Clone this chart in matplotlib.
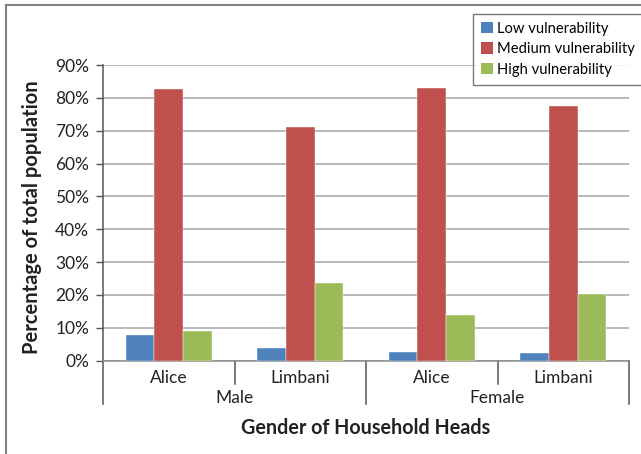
import numpy as np
import matplotlib.pyplot as plt
from matplotlib.patches import Patch
from matplotlib.lines import Line2D

plt.rcParams['font.family'] = ['Lato', 'DejaVu Sans']

# data (percent of total population)
categories = ['Alice', 'Limbani', 'Alice', 'Limbani']
groups = ['Male', 'Female']
series = ['Low vulnerability', 'Medium vulnerability', 'High vulnerability']
low = [7.9, 4.0, 2.6, 2.3]
medium = [82.8, 71.2, 82.9, 77.5]
high = [8.9, 23.7, 13.9, 20.3]
colors = ['#4F81BD', '#C0504D', '#9BBB59']

W, H = 641, 454
fig = plt.figure(figsize=(W / 100, H / 100), dpi=100)

# plot area in pixels: left 103, right 629, top 65, bottom 360.7
ax = fig.add_axes([103 / W, (H - 360.7) / H, 526 / W, (360.7 - 65) / H])

x = np.arange(len(categories))
bw = 0.217
for i, vals in enumerate([low, medium, high]):
    ax.bar(x + (i - 1) * bw, np.array(vals) / 100, bw, color=colors[i],
           edgecolor='white', linewidth=0.3, zorder=3)

ax.set_xlim(-0.5, 3.5)
ax.set_ylim(0, 0.9)
ax.set_yticks(np.arange(0, 0.91, 0.1))
ax.set_yticklabels([f'{int(round(v * 100))}%' for v in np.arange(0, 0.91, 0.1)], fontsize=12.5)
ax.yaxis.grid(True, color='#A6A6A6', linewidth=1.1, zorder=0)
ax.set_xticks([])
ax.tick_params(axis='y', length=5, width=1, color='#555555', pad=5, labelcolor='#222222')
for s in ['top', 'right', 'left']:
    ax.spines[s].set_visible(False)
ax.spines['bottom'].set_color('#8C8C8C')
ax.spines['bottom'].set_linewidth(1.1)

# category / group labels and separators under the axis
tr = ax.get_xaxis_transform()
ah = 360.7 - 65
def yoff(py):
    return (360.7 - py) / ah

ax.plot([-0.5, -0.5], [1, yoff(404)], color='#555555', lw=1.1, transform=tr, clip_on=False)
for xs in [1.5, 3.5]:
    ax.plot([xs, xs], [0, yoff(404)], color='#555555', lw=1.1, transform=tr, clip_on=False)
for xs in [0.5, 2.5]:
    ax.plot([xs, xs], [0, yoff(384)], color='#555555', lw=1.1, transform=tr, clip_on=False)
for xi, c in zip(x, categories):
    ax.text(xi, yoff(378), c, transform=tr, ha='center', va='center', fontsize=12.5, color='#222222')
for gi, g in enumerate(groups):
    ax.text(0.5 + 2 * gi, yoff(398), g, transform=tr, ha='center', va='center', fontsize=12.5, color='#222222')

fig.text(32 / W, 1 - 217 / H, 'Percentage of total population', rotation=90,
         ha='center', va='center', fontsize=14.5, fontweight='bold', color='#222222')
fig.text(366 / W, 1 - 428 / H, 'Gender of Household Heads',
         ha='center', va='center', fontsize=14.2, fontweight='bold', color='#222222')

handles = [Patch(facecolor=c, edgecolor='none') for c in colors]
leg = fig.legend(handles, series, loc='upper left', bbox_to_anchor=(473 / W, 1 - 13.5 / H),
                 fontsize=10.6, frameon=True, fancybox=False, handlelength=0.8, handleheight=0.8,
                 handletextpad=0.25, labelspacing=0.45, borderpad=0.55, borderaxespad=0)
leg.get_frame().set_edgecolor('#555555')
leg.get_frame().set_linewidth(1.0)

# outer chart frame (only top and left visible)
fig.add_artist(Line2D([6 / W, 6 / W], [0, 1 - 5 / H], color='#808080', lw=1.5))
fig.add_artist(Line2D([6 / W, 1], [1 - 5 / H, 1 - 5 / H], color='#808080', lw=1.5))

fig.savefig('out.png', dpi=100)
